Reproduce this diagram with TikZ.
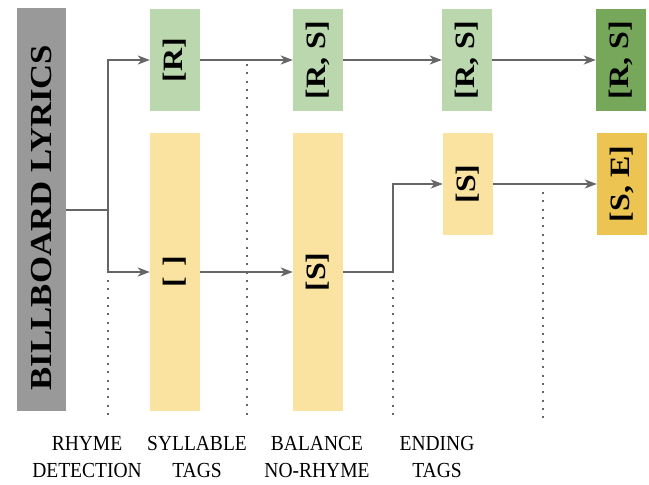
\documentclass[tikz,border=0pt]{standalone}
\usepackage{fontspec}
\setmainfont{Liberation Serif}
\usetikzlibrary{arrows.meta}
\definecolor{cgray}{HTML}{999999}
\definecolor{lgreen}{HTML}{BBD7AD}
\definecolor{dgreen}{HTML}{77A75A}
\definecolor{lyellow}{HTML}{FAE3A0}
\definecolor{gold}{HTML}{EBC452}
\definecolor{lcol}{HTML}{666666}
\newcommand{\vtxt}[1]{\rotatebox{90}{\scalebox{1.14}[1]{#1}}}
\newcommand{\htxt}[1]{\scalebox{1}[1.1]{#1}}
\tikzset{
  box/.style={draw=none, inner sep=0pt, minimum width=50pt, font=\fontsize{28}{30}\selectfont\bfseries},
  conn/.style={draw=lcol, line width=2pt},
  arr/.style={conn, -{Stealth[length=12pt,width=9pt,inset=3.5pt]}},
  dots/.style={draw=lcol, line width=2pt, dash pattern=on 2pt off 6.3pt},
  lab/.style={align=center, font=\fontsize{19.5}{27.5}\selectfont}
}
\begin{document}
\begin{tikzpicture}[x=1pt,y=-1pt]
\useasboundingbox (0,0) rectangle (649,485);
% boxes
\node[box, fill=cgray, minimum height=403pt, minimum width=49pt, font=\fontsize{30.5}{33}\selectfont\bfseries] (bl) at (41.5,209.5) {\vtxt{BILLBOARD LYRICS\hspace{14pt}}};
\node[box, fill=lgreen, minimum height=102pt] (r1) at (175,60) {\vtxt{[R]}};
\node[box, fill=lyellow, minimum height=278pt] (e1) at (175,272) {\vtxt{[\,\,]}};
\node[box, fill=lgreen, minimum height=102pt] (r2) at (318,60) {\vtxt{[R, S]}};
\node[box, fill=lyellow, minimum height=278pt] (s1) at (318,272) {\vtxt{[S]}};
\node[box, fill=lgreen, minimum height=102pt] (r3) at (467,60) {\vtxt{[R, S]}};
\node[box, fill=lyellow, minimum height=102pt] (s2) at (468,184) {\vtxt{[S]}};
\node[box, fill=dgreen, minimum height=102pt] (r4) at (621,60) {\vtxt{[R, S]}};
\node[box, fill=gold, minimum height=102pt] (s3) at (622,184) {\vtxt{[S, E]}};
% junctions
\coordinate (j) at (108,209.5);
\coordinate (k) at (393,272);
% dotted guides
\draw[dots] (108,280) -- (108,420);
\draw[dots] (246.5,64) -- (246.5,420);
\draw[dots] (393,280) -- (393,420);
\draw[dots] (543,192) -- (543,420);
% connectors
\draw[conn] (bl.east) -- (j);
\draw[arr] (j) |- (r1.west);
\draw[arr] (j) |- (e1.west);
\draw[arr] (r1.east) -- (r2.west);
\draw[arr] (e1.east) -- (s1.west);
\draw[arr] (r2.east) -- (r3.west);
\draw[arr] (s1.east) -- (k) |- (s2.west);
\draw[arr] (r3.east) -- (r4.west);
\draw[arr] (s2.east) -- (s3.west);
% labels
\node[lab] (l1) at (87,457) {\htxt{RHYME}\\\htxt{DETECTION}};
\node[lab] (l2) at (197,457) {\htxt{SYLLABLE}\\\htxt{TAGS}};
\node[lab] (l3) at (317,457) {\htxt{BALANCE}\\\htxt{NO-RHYME}};
\node[lab] (l4) at (437,457) {\htxt{ENDING}\\\htxt{TAGS}};
\end{tikzpicture}
\end{document}
